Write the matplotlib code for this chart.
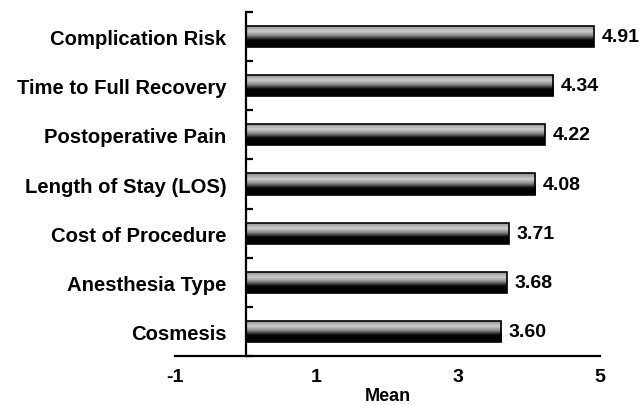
import numpy as np
import matplotlib.pyplot as plt
from matplotlib.colors import LinearSegmentedColormap

categories = ['Cosmesis', 'Anesthesia Type', 'Cost of Procedure',
              'Length of Stay (LOS)', 'Postoperative Pain',
              'Time to Full Recovery', 'Complication Risk']
means = [3.60, 3.68, 3.71, 4.08, 4.22, 4.34, 4.91]
value_labels = ['3.60', '3.68', '3.71', '4.08', '4.22', '4.34', '4.91']
xticks = [-1, 1, 3, 5]

plt.rcParams['font.family'] = ['Liberation Sans', 'DejaVu Sans']
plt.rcParams['font.weight'] = 'bold'

fig = plt.figure(figsize=(6.44, 4.06), dpi=100)
ax = fig.add_axes([0.2717, 0.1207, 0.66, 0.847])

y = np.arange(len(categories))
bars = ax.barh(y, means, height=0.43, color='none', edgecolor='black',
               linewidth=1.2, zorder=3)

# cylinder-like shading: grey on top, light band, fading to black underneath
shade = LinearSegmentedColormap.from_list(
    'tube', [(0.0, '#8a8a8a'), (0.28, '#cdcdcd'), (0.48, '#858585'),
             (0.68, '#050505'), (1.0, '#000000')])
grad = np.linspace(0, 1, 64).reshape(-1, 1)
for b in bars:
    x0, y0 = b.get_x(), b.get_y()
    w, h = b.get_width(), b.get_height()
    im = ax.imshow(grad, cmap=shade, aspect='auto', origin='upper',
                   extent=(x0, x0 + w, y0, y0 + h), zorder=2)
    im.set_clip_path(b)

for yi, v, s in zip(y, means, value_labels):
    ax.text(v + 0.11, yi, s, va='center', ha='left', fontsize=14,
            fontweight='bold')

ax.set_xlim(-1, 5)
ax.set_ylim(-0.5, len(categories) - 0.5)

ax.spines['top'].set_visible(False)
ax.spines['right'].set_visible(False)
ax.spines['left'].set_position(('data', 0))
ax.spines['left'].set_linewidth(1.6)
ax.spines['bottom'].set_linewidth(1.6)

ax.set_yticks(y)
ax.set_yticklabels(categories, fontsize=14.6, fontweight='bold')
ax.set_yticks(np.arange(-0.5, len(categories), 1.0), minor=True)
ax.tick_params(axis='y', which='major', length=0, pad=14)
ax.tick_params(axis='y', which='minor', direction='in', length=5, width=1.6)

ax.set_xticks(xticks)
ax.set_xticklabels([str(t) for t in xticks], fontsize=14, fontweight='bold')
ax.tick_params(axis='x', length=0, pad=9)
ax.set_xlabel('Mean', fontsize=13, fontweight='bold', labelpad=1)

fig.savefig('out.png', dpi=100)
